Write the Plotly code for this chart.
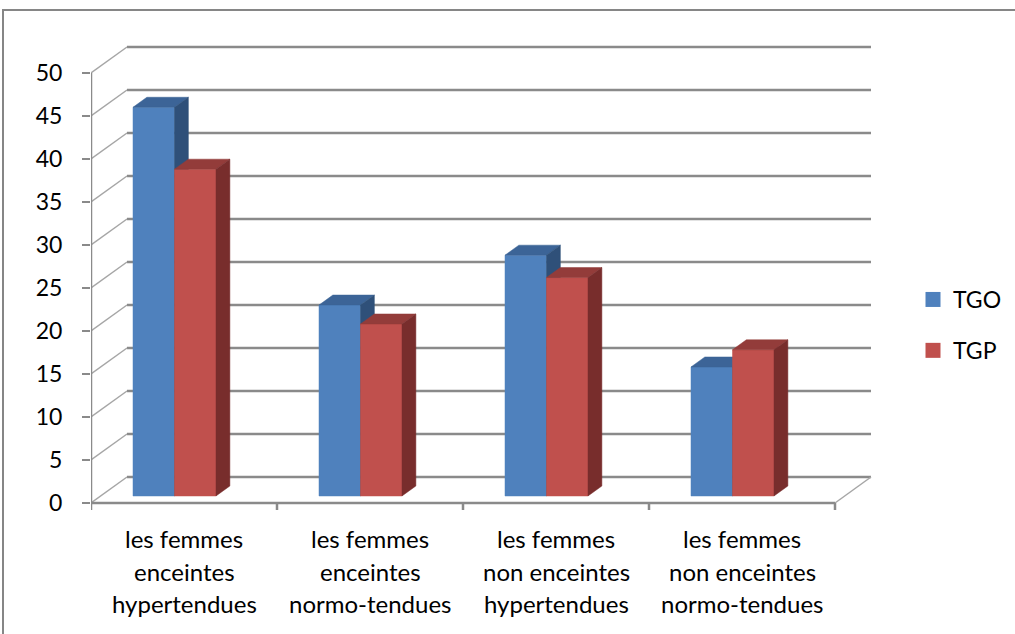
import plotly.graph_objects as go

# ---- data ----
categories = [
    ["les femmes", "enceintes", "hypertendues"],
    ["les femmes", "enceintes", "normo-tendues"],
    ["les femmes", "non enceintes", "hypertendues"],
    ["les femmes", "non enceintes", "normo-tendues"],
]
series_names = ["TGO", "TGP"]
tgo = [45.2, 22.2, 28, 15]
tgp = [38, 20, 25.4, 17]
y_ticks = list(range(0, 55, 5))

# ---- styling ----
FONT = "Lato"
FACE = {"TGO": ("#4F81BD", "#3C6497", "#2F5079"),
        "TGP": ("#C0504D", "#933C3A", "#782D2C")}
GRID = "#8A8A8A"
WALL = "#A6A6A6"

# ---- geometry of the pseudo-3D box ----
W, H = 1015, 634
X0_PX, Y0_PX = 91, 503       # front-left floor corner
CAT_PX, UNIT_PX = 186, 8.6   # pixels per category / per value unit
DEPTH_X = 36 / CAT_PX        # oblique depth in data units
DEPTH_Y = 26 / UNIT_PX
N = len(categories)
BAR_W = 41.5 / CAT_PX
GROUP_OFF = 0.5 - 9.5 / CAT_PX
BAR_F0 = 0.27                # depth fraction of the bar front plane
BAR_D = 0.385                # depth fraction of the bar thickness

fig = go.Figure()


def add_lines(segs, color, width):
    xs, ys = [], []
    for (xa, ya), (xb, yb) in segs:
        xs += [xa, xb, None]
        ys += [ya, yb, None]
    fig.add_trace(go.Scatter(x=xs, y=ys, mode="lines", showlegend=False,
                             hoverinfo="skip",
                             line=dict(color=color, width=width)))


# back wall gridlines
add_lines([((DEPTH_X, v + DEPTH_Y), (N + DEPTH_X, v + DEPTH_Y)) for v in y_ticks],
          GRID, 2.5)
# side wall and floor diagonals
add_lines([((0, v), (DEPTH_X, v + DEPTH_Y)) for v in y_ticks]
          + [((N, 0), (N + DEPTH_X, DEPTH_Y))], WALL, 1.5)
# front axes
add_lines([((0, 0), (0, max(y_ticks)))], GRID, 2.5)
add_lines([((-0.015, 0), (N, 0))] + [((i, 0), (i, -7 / UNIT_PX)) for i in range(N + 1)],
          GRID, 2.5)


def polys(pts_list):
    xs, ys = [], []
    for pts in pts_list:
        for x, y in pts + [pts[0]]:
            xs.append(x)
            ys.append(y)
        xs.append(None)
        ys.append(None)
    return xs, ys


base = BAR_F0 * DEPTH_Y
dx, dy = BAR_D * DEPTH_X, BAR_D * DEPTH_Y
for s, (name, values) in enumerate(zip(series_names, [tgo, tgp])):
    front, top, side = [], [], []
    for i, v in enumerate(values):
        xl = i + GROUP_OFF + (s - 1) * BAR_W
        xr = xl + BAR_W
        yb, yt = base, base + v
        front.append([(xl, yb), (xr, yb), (xr, yt), (xl, yt)])
        top.append([(xl, yt), (xr, yt), (xr + dx, yt + dy), (xl + dx, yt + dy)])
        side.append([(xr, yb), (xr + dx, yb + dy), (xr + dx, yt + dy), (xr, yt)])
    for pts, col in zip([front, top, side], FACE[name]):
        xs, ys = polys(pts)
        fig.add_trace(go.Scatter(x=xs, y=ys, mode="lines", fill="toself",
                                 fillcolor=col, line=dict(color=col, width=0.5),
                                 showlegend=False, hoverinfo="skip"))

# legend entries
for name in series_names:
    fig.add_trace(go.Scatter(x=[None], y=[None], mode="markers", name=name,
                             legendgroup=name,
                             marker=dict(symbol="square", size=15,
                                         color=FACE[name][0])))

# category labels, one line each
line_y = [-35 / UNIT_PX, -68 / UNIT_PX, -100 / UNIT_PX]
for i, lines in enumerate(categories):
    for ly, txt in zip(line_y, lines):
        fig.add_annotation(x=i + 0.5, y=ly, text=txt, showarrow=False,
                           xanchor="center", yanchor="middle",
                           font=dict(family=FONT, size=24, color="#000000"))

# chart border
fig.add_shape(type="rect", xref="paper", yref="paper",
              x0=3 / W, x1=1.1, y0=-0.1, y1=1 - 10 / H,
              line=dict(color="#868686", width=2))

fig.update_layout(
    width=W, height=H,
    margin=dict(l=0, r=0, t=0, b=0),
    paper_bgcolor="white", plot_bgcolor="rgba(0,0,0,0)",
    font=dict(family=FONT, color="#000000"),
    xaxis=dict(domain=[X0_PX / W, 1], range=[0, (W - X0_PX) / CAT_PX],
               visible=False, fixedrange=True),
    yaxis=dict(domain=[0, 1],
               range=[(Y0_PX - H) / UNIT_PX, Y0_PX / UNIT_PX],
               tickvals=y_ticks, ticks="outside", ticklen=8, tickwidth=2,
               tickcolor=GRID, showgrid=False, zeroline=False, showline=False,
               ticklabelstandoff=15,
               tickfont=dict(family=FONT, size=23, color="#000000")),
    legend=dict(x=913 / W, y=1 - 325 / H, xanchor="left", yanchor="middle",
                font=dict(family=FONT, size=23, color="#000000"),
                tracegroupgap=18, bgcolor="rgba(0,0,0,0)"),
)

fig.write_html("out.html")
